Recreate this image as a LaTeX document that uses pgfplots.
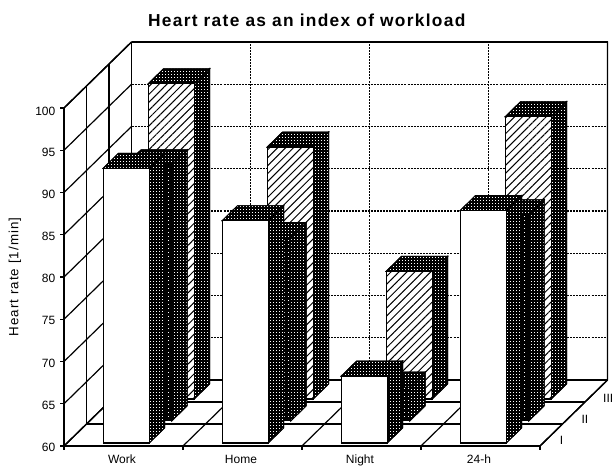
\documentclass[border=0pt]{standalone}
\usepackage{fontspec}
\setmainfont{Liberation Sans}
\newfontfamily\titlefont[LetterSpace=7.5]{Liberation Sans}
\newfontfamily\labelfont[LetterSpace=8]{Liberation Sans}
\usepackage{pgfplots}
\pgfplotsset{compat=1.18}
\usetikzlibrary{patterns,patterns.meta}
\pgfdeclarepatternformonly{speck}{\pgfqpoint{-.2pt}{-.2pt}}{\pgfqpoint{2.4pt}{2.4pt}}{\pgfqpoint{2.25pt}{2.25pt}}{%
  \pgfpathrectangle{\pgfqpoint{0pt}{0pt}}{\pgfqpoint{.7pt}{.7pt}}\pgfusepath{fill}}
\pgfdeclarepatternformonly{fine}{\pgfqpoint{-.2pt}{-.2pt}}{\pgfqpoint{3.4pt}{3.4pt}}{\pgfqpoint{3pt}{3pt}}{%
  \pgfpathrectangle{\pgfqpoint{0pt}{0pt}}{\pgfqpoint{.5pt}{.5pt}}\pgfusepath{fill}}
\tikzset{
  dark/.style={fill=black,line width=.7pt,draw=black,postaction={pattern=speck,pattern color=white}},
  darker/.style={fill=black,line width=.7pt,draw=black,postaction={pattern=fine,pattern color=white}},
  whiteface/.style={fill=white,line width=1pt,draw=black},
  hatchface/.style={fill=white,line width=1pt,draw=black,postaction={pattern={Lines[angle=45,distance=4.2pt,line width=.75pt]},pattern color=black}},
  solidgrid/.style={black,line width=.9pt},
  dotgrid/.style={black,line width=.8pt,dash pattern=on 1.5pt off .8pt},
}
% \threedbar{category}{row}{value}{front face style}
\newcommand{\threedbar}[4]{%
  \pgfmathsetmacro{\xa}{#1+0.303}\pgfmathsetmacro{\xb}{#1+0.69}%
  \pgfmathsetmacro{\ya}{#2+0.14}\pgfmathsetmacro{\yb}{#2+0.82}%
  \addplot3[dark] coordinates {(\xb,\ya,60) (\xb,\yb,60) (\xb,\yb,#3) (\xb,\ya,#3)} --cycle;
  \addplot3[dark] coordinates {(\xa,\ya,#3) (\xb,\ya,#3) (\xb,\yb,#3) (\xa,\yb,#3)} --cycle;
  \addplot3[#4] coordinates {(\xa,\ya,60) (\xb,\ya,60) (\xb,\ya,#3) (\xa,\ya,#3)} --cycle;
}
\begin{document}
\begin{tikzpicture}
\begin{axis}[
  x={(89.25pt,0pt)}, y={(16.875pt,16.5pt)}, z={(0pt,6.3375pt)},
  xmin=0,xmax=4,ymin=0,ymax=3,zmin=60,zmax=100,
  clip=false,
  axis line style={line width=1pt},
  major tick length=0pt,
  xtick={0.5,1.5,2.5,3.5},
  xticklabels={Work,Home,Night,24-h},
  ytick={0.5,1.5,2.5},
  yticklabels={I,II,III},
  ztick={60,65,...,100},
  /pgf/number format/assume math mode=true,
  tick label style={font=\fontsize{9}{10}\selectfont},
  xticklabel style={yshift=-2.5pt,xshift=2.25pt,text height=7pt,text depth=2pt},
  yticklabel style={xshift=2pt,yshift=1.5pt},
  zticklabel style={xshift=-3pt,yshift=2.25pt},
  zlabel={},
  title={\titlefont\bfseries Heart rate as an index of workload},
  title style={at={(axis cs:2.04,0,110.4)},anchor=center,yshift=-6.5pt,font=\fontsize{13}{15}\selectfont},
]
% walls and floor
\addplot3[solidgrid] coordinates {(0,1,60) (0,1,100)};
\addplot3[solidgrid] coordinates {(0,2,60) (0,2,100)};
\addplot3[solidgrid] coordinates {(0,0,65) (0,3,65)};
\addplot3[solidgrid] coordinates {(0,0,70) (0,3,70)};
\addplot3[solidgrid] coordinates {(0,0,75) (0,3,75)};
\addplot3[solidgrid] coordinates {(0,0,80) (0,3,80)};
\addplot3[solidgrid] coordinates {(0,0,85) (0,3,85)};
\addplot3[solidgrid] coordinates {(0,0,90) (0,3,90)};
\addplot3[solidgrid] coordinates {(0,0,95) (0,3,95)};
\addplot3[dotgrid] coordinates {(0,3,65) (4,3,65)};
\addplot3[dotgrid] coordinates {(0,3,70) (4,3,70)};
\addplot3[dotgrid] coordinates {(0,3,75) (4,3,75)};
\addplot3[dotgrid] coordinates {(0,3,80) (4,3,80)};
\addplot3[dotgrid] coordinates {(0,3,85) (4,3,85)};
\addplot3[dotgrid] coordinates {(0,3,90) (4,3,90)};
\addplot3[dotgrid] coordinates {(0,3,95) (4,3,95)};
\addplot3[dotgrid] coordinates {(1,3,60) (1,3,100)};
\addplot3[dotgrid] coordinates {(2,3,60) (2,3,100)};
\addplot3[dotgrid] coordinates {(3,3,60) (3,3,100)};
\addplot3[solidgrid] coordinates {(0,1,60) (4,1,60)};
\addplot3[solidgrid] coordinates {(0,2,60) (4,2,60)};
\addplot3[solidgrid] coordinates {(1,0,60) (1,3,60)};
\addplot3[solidgrid] coordinates {(2,0,60) (2,3,60)};
\addplot3[solidgrid] coordinates {(3,0,60) (3,3,60)};
% outline
\addplot3[line width=1pt,black] coordinates {(0,0,100) (0,0,60) (4,0,60) (4,3,60) (4,3,100) (0,3,100) (0,0,100)};
\addplot3[line width=1pt,black] coordinates {(0,3,100) (0,3,60) (4,3,60)};
\addplot3[line width=1pt,black] coordinates {(0,0,60) (0,3,60)};
% ticks
\addplot3[line width=.8pt,black] coordinates {(0,0,60) (0,0,59.5)};
\addplot3[line width=.8pt,black] coordinates {(1,0,60) (1,0,59.5)};
\addplot3[line width=.8pt,black] coordinates {(2,0,60) (2,0,59.5)};
\addplot3[line width=.8pt,black] coordinates {(3,0,60) (3,0,59.5)};
\addplot3[line width=.8pt,black] coordinates {(4,0,60) (4,0,59.5)};
\addplot3[line width=.8pt,black] coordinates {(-0.03,0,60) (0,0,60)};
\addplot3[line width=.8pt,black] coordinates {(-0.03,0,65) (0,0,65)};
\addplot3[line width=.8pt,black] coordinates {(-0.03,0,70) (0,0,70)};
\addplot3[line width=.8pt,black] coordinates {(-0.03,0,75) (0,0,75)};
\addplot3[line width=.8pt,black] coordinates {(-0.03,0,80) (0,0,80)};
\addplot3[line width=.8pt,black] coordinates {(-0.03,0,85) (0,0,85)};
\addplot3[line width=.8pt,black] coordinates {(-0.03,0,90) (0,0,90)};
\addplot3[line width=.8pt,black] coordinates {(-0.03,0,95) (0,0,95)};
\addplot3[line width=.8pt,black] coordinates {(-0.03,0,100) (0,0,100)};
% series III (back row)
\threedbar{0}{2}{97.3}{hatchface}
\threedbar{1}{2}{89.8}{hatchface}
\threedbar{2}{2}{75.1}{hatchface}
\threedbar{3}{2}{93.4}{hatchface}
% series II
\threedbar{0}{1}{90.3}{darker}
\threedbar{1}{1}{81.7}{darker}
\threedbar{2}{1}{64.0}{darker}
\threedbar{3}{1}{84.4}{darker}
% series I (front row)
\threedbar{0}{0}{92.5}{whiteface}
\threedbar{1}{0}{86.3}{whiteface}
\threedbar{2}{0}{67.9}{whiteface}
\threedbar{3}{0}{87.5}{whiteface}
\coordinate (o) at (axis cs:0,0,60);
\node[rotate=90,font=\fontsize{10}{11}\selectfont\labelfont] at ([xshift=-36.75pt]axis cs:0,0,80) {Heart rate [1/min]};
\end{axis}
\pgfresetboundingbox
\path[use as bounding box] ([shift={(-48pt,-14.25pt)}]o) rectangle ([shift={(411.75pt,334.5pt)}]o);
\end{tikzpicture}
\end{document}
